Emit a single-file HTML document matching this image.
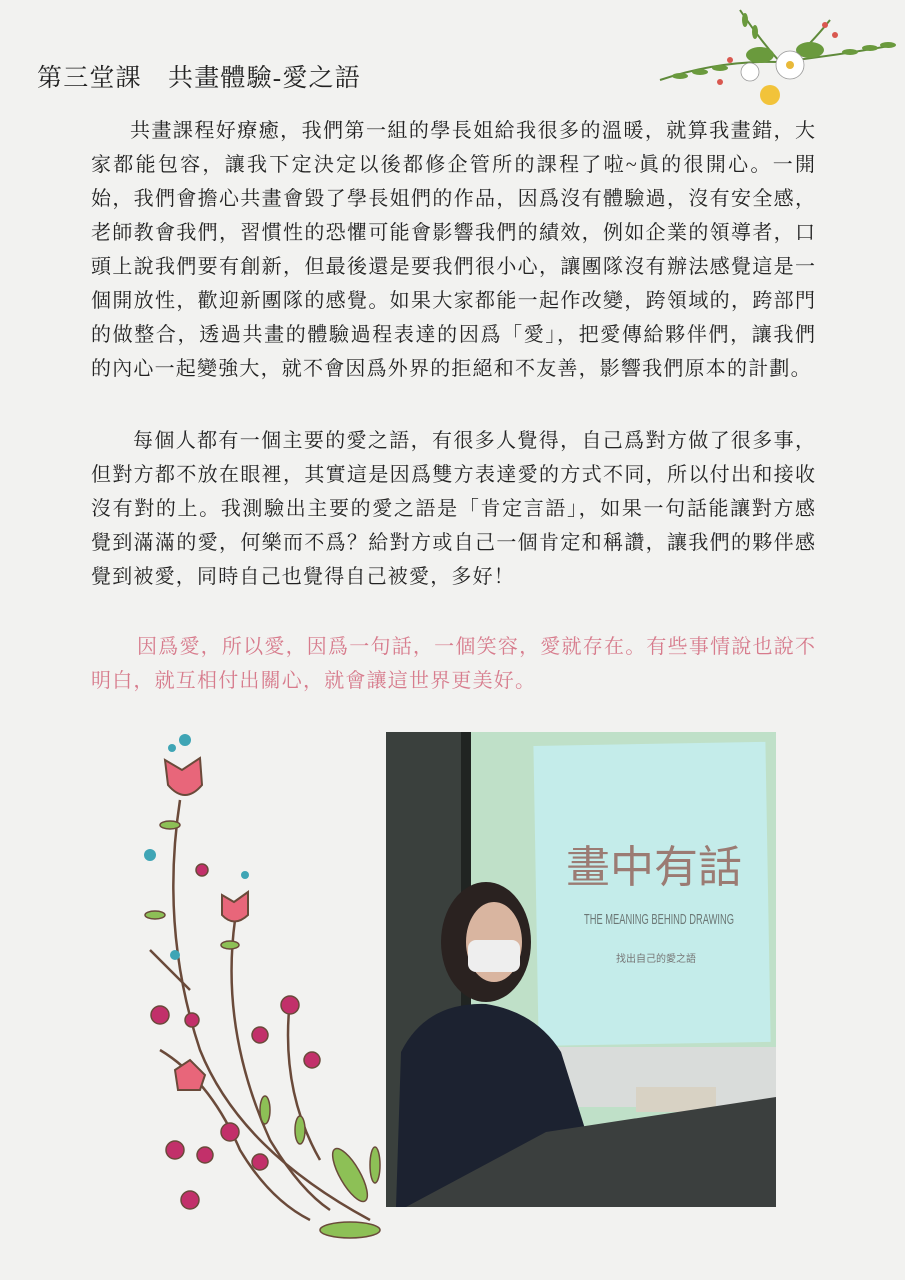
<!DOCTYPE html>
<html><head><meta charset="utf-8">
<style>
body{margin:0;background:#f2f2f0;}
#page{position:relative;width:905px;height:1280px;overflow:hidden;background:#f2f2f0;font-family:"Liberation Serif","Noto Serif CJK SC","Noto Sans CJK TC",serif;color:#222;}
.title{position:absolute;left:37px;top:58px;font-size:25px;letter-spacing:1.2px;white-space:nowrap;}
.ln{position:absolute;left:91px;width:724px;font-size:20px;line-height:34px;white-space:nowrap;text-align:justify;text-align-last:justify;}
.pink{color:#d77b8c;}
</style></head><body>
<div id="page">
<div class="title">第三堂課　共畫體驗-愛之語</div>

<div>
<div class="ln" style="top:114px;left:130px;width:685px">共畫課程好療癒，我們第一組的學長姐給我很多的溫暖，就算我畫錯，大</div>
<div class="ln" style="top:148px">家都能包容，讓我下定決定以後都修企管所的課程了啦~眞的很開心。一開</div>
<div class="ln" style="top:182px">始，我們會擔心共畫會毀了學長姐們的作品，因爲沒有體驗過，沒有安全感，</div>
<div class="ln" style="top:216px">老師教會我們，習慣性的恐懼可能會影響我們的績效，例如企業的領導者，口</div>
<div class="ln" style="top:250px">頭上說我們要有創新，但最後還是要我們很小心，讓團隊沒有辦法感覺這是一</div>
<div class="ln" style="top:284px">個開放性，歡迎新團隊的感覺。如果大家都能一起作改變，跨領域的，跨部門</div>
<div class="ln" style="top:318px">的做整合，透過共畫的體驗過程表達的因爲「愛」，把愛傳給夥伴們，讓我們</div>
<div class="ln" style="top:352px;text-align-last:left;letter-spacing:1.2px">的內心一起變強大，就不會因爲外界的拒絕和不友善，影響我們原本的計劃。</div>
</div>

<div>
<div class="ln" style="top:424px;left:133px;width:682px">每個人都有一個主要的愛之語，有很多人覺得，自己爲對方做了很多事，</div>
<div class="ln" style="top:458px">但對方都不放在眼裡，其實這是因爲雙方表達愛的方式不同，所以付出和接收</div>
<div class="ln" style="top:492px">沒有對的上。我測驗出主要的愛之語是「肯定言語」，如果一句話能讓對方感</div>
<div class="ln" style="top:526px">覺到滿滿的愛，何樂而不爲？給對方或自己一個肯定和稱讚，讓我們的夥伴感</div>
<div class="ln" style="top:560px;text-align-last:left;letter-spacing:1.2px">覺到被愛，同時自己也覺得自己被愛，多好！</div>
</div>

<div class="pink">
<div class="ln" style="top:630px;left:137px;width:678px">因爲愛，所以愛，因爲一句話，一個笑容，愛就存在。有些事情說也說不</div>
<div class="ln" style="top:664px;text-align-last:left;letter-spacing:1.2px">明白，就互相付出關心，就會讓這世界更美好。</div>
</div>

<svg style="position:absolute;left:650px;top:0" width="255" height="120" viewBox="0 0 255 120">
<g stroke="#5f8a3a" stroke-width="2" fill="none">
<path d="M10 80 Q70 60 130 62"/><path d="M130 62 Q190 55 245 45"/><path d="M90 10 Q110 40 130 62"/><path d="M180 20 Q160 45 140 62"/>
</g>
<g fill="#6a9a3d">
<ellipse cx="30" cy="76" rx="8" ry="3"/><ellipse cx="50" cy="72" rx="8" ry="3"/><ellipse cx="70" cy="68" rx="8" ry="3"/><ellipse cx="200" cy="52" rx="8" ry="3"/><ellipse cx="220" cy="48" rx="8" ry="3"/><ellipse cx="238" cy="45" rx="8" ry="3"/>
<ellipse cx="95" cy="20" rx="3" ry="7"/><ellipse cx="105" cy="32" rx="3" ry="7"/><ellipse cx="110" cy="55" rx="14" ry="8"/><ellipse cx="160" cy="50" rx="14" ry="8"/>
</g>
<g fill="#d9584f"><circle cx="175" cy="25" r="3"/><circle cx="185" cy="35" r="3"/><circle cx="80" cy="60" r="3"/><circle cx="70" cy="82" r="3"/></g>
<g fill="#fff" stroke="#999" stroke-width="0.8"><circle cx="140" cy="65" r="14"/><circle cx="100" cy="72" r="9"/></g>
<circle cx="140" cy="65" r="4" fill="#e8b93a"/><circle cx="120" cy="95" r="10" fill="#f2c33a"/>
</svg>

<svg style="position:absolute;left:386px;top:732px" width="390" height="475" viewBox="0 0 390 475">
<rect width="390" height="475" fill="#bfe0c8"/>
<rect width="80" height="475" fill="#3a403d"/>
<rect x="75" width="10" height="475" fill="#202422"/>
<rect x="150" y="12" width="232" height="300" fill="#c4ecea" transform="rotate(-1 260 160)"/>
<text x="268" y="150" font-size="44" fill="#9b7b73" text-anchor="middle" font-family="Noto Sans CJK TC,sans-serif">畫中有話</text>
<text x="273" y="192" font-size="15" fill="#6b7775" text-anchor="middle" textLength="150" lengthAdjust="spacingAndGlyphs" font-family="Liberation Sans Narrow,Liberation Sans,sans-serif">THE MEANING BEHIND DRAWING</text>
<text x="270" y="230" font-size="10" fill="#777" text-anchor="middle" font-family="Noto Sans CJK TC,sans-serif">找出自己的愛之語</text>
<rect x="80" y="315" width="310" height="60" fill="#d9dcda"/>
<rect x="250" y="355" width="80" height="25" fill="#d8d2c4"/>
<path d="M10 475 L15 320 Q40 270 100 272 Q150 280 175 320 L200 400 L160 475 Z" fill="#1c2230"/>
<ellipse cx="100" cy="210" rx="45" ry="60" fill="#2a2220"/>
<ellipse cx="108" cy="210" rx="28" ry="40" fill="#d9b5a0"/>
<rect x="82" y="208" width="52" height="32" rx="8" fill="#eee"/>
<path d="M20 475 L160 400 L390 365 L390 475 Z" fill="#3b3f3e"/>
</svg>

<svg style="position:absolute;left:130px;top:730px" width="260" height="520" viewBox="0 0 260 520">
<g stroke="#6a4a3a" stroke-width="2.5" fill="none">
<path d="M50 70 Q30 200 70 320 Q110 420 240 490"/>
<path d="M105 190 Q90 300 140 410 Q170 460 200 480"/>
<path d="M160 270 Q150 360 190 430"/>
<path d="M30 320 Q80 350 110 420 Q140 470 180 490"/>
<path d="M20 220 Q40 240 60 260"/>
</g>
<g fill="#e8667a" stroke="#6a4a3a" stroke-width="2">
<path d="M35 30 L52 40 L70 28 L72 55 Q55 75 38 55 Z"/>
<path d="M92 165 L104 172 L118 162 L118 185 Q104 198 92 185 Z"/>
<path d="M45 340 L60 330 L75 345 L70 360 L48 360 Z"/>
</g>
<g fill="#c2306a" stroke="#6a4a3a" stroke-width="1.5">
<circle cx="72" cy="140" r="6"/><circle cx="160" cy="275" r="9"/><circle cx="130" cy="305" r="8"/><circle cx="182" cy="330" r="8"/><circle cx="30" cy="285" r="9"/><circle cx="62" cy="290" r="7"/><circle cx="45" cy="420" r="9"/><circle cx="75" cy="425" r="8"/><circle cx="100" cy="402" r="9"/><circle cx="130" cy="432" r="8"/><circle cx="60" cy="470" r="9"/>
</g>
<g fill="#3fa5b5"><circle cx="55" cy="10" r="6"/><circle cx="42" cy="18" r="4"/><circle cx="20" cy="125" r="6"/><circle cx="45" cy="225" r="5"/><circle cx="115" cy="145" r="4"/></g>
<g fill="#8dc056" stroke="#6a4a3a" stroke-width="1.5">
<ellipse cx="40" cy="95" rx="10" ry="4"/><ellipse cx="25" cy="185" rx="10" ry="4"/><ellipse cx="100" cy="215" rx="9" ry="4"/><ellipse cx="135" cy="380" rx="5" ry="14"/><ellipse cx="170" cy="400" rx="5" ry="14"/><ellipse cx="220" cy="445" rx="10" ry="30" transform="rotate(-30 220 445)"/><ellipse cx="245" cy="435" rx="5" ry="18"/><ellipse cx="220" cy="500" rx="30" ry="8"/>
</g>
</svg>
</div>
</body></html>
